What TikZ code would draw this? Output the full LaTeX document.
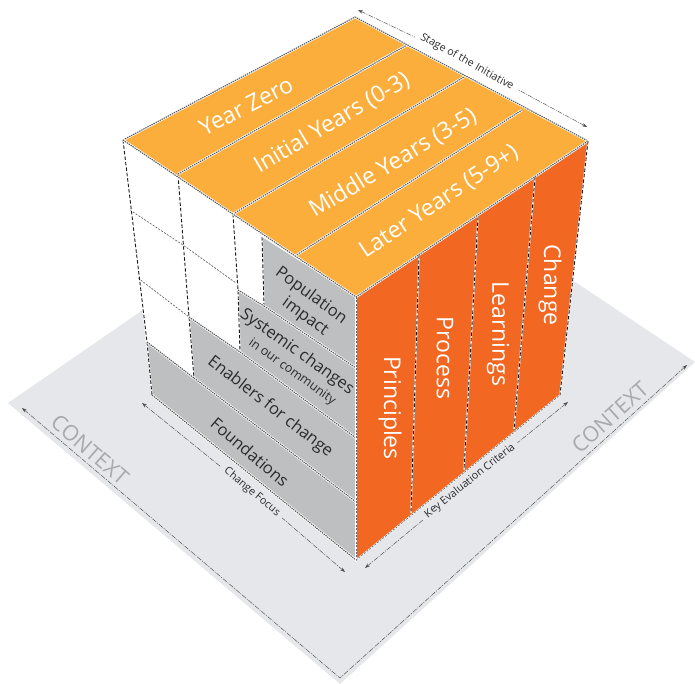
\documentclass[tikz,border=0pt]{standalone}
\usepackage{fontspec}
\setmainfont{Open Sans}
\usetikzlibrary{arrows.meta}
\definecolor{groundc}{HTML}{E5E7EA}
\definecolor{topc}{HTML}{FBAE3C}
\definecolor{rightc}{HTML}{F26722}
\definecolor{stepc}{HTML}{BDBFC1}
\definecolor{contextc}{HTML}{A7A9AC}
\definecolor{inkc}{HTML}{2B2B2B}
\tikzset{
  seam/.style={draw=black!65,line width=1.1pt,dash pattern=on 1.4pt off .9pt,
    preaction={draw=white,line width=2.4pt,solid}},
  thinseam/.style={draw=black!60,line width=.7pt,dash pattern=on 2pt off 1.4pt,
    preaction={draw=white,line width=1.4pt,solid}},
  colseam/.style={draw=black!90,line width=.9pt,dash pattern=on 3.5pt off 2pt,
    preaction={draw=white,line width=1.5pt,solid}},
  measurestart/.style={draw=black!70,line width=.45pt,dash pattern=on 5pt off 1.2pt on 1pt off 1.2pt,
    {Stealth[length=5pt,width=3.4pt]}-},
  lbl/.style={inner sep=0pt,align=center},
  toplbl/.style={lbl,text=white,font=\fontsize{23}{26}\selectfont},
  sidelbl/.style={lbl,text=white,rotate=-90,font=\fontsize{23}{26}\selectfont},
  steplbl/.style={lbl,text=inkc,font=\fontsize{16.5}{20}\selectfont},
  smalllbl/.style={inner xsep=5pt,inner ysep=0pt,text=inkc,font=\fontsize{10.7}{12}\selectfont},
  contextlbl/.style={lbl,text=contextc,font=\fontsize{21.5}{24}\selectfont},
}
\begin{document}
\begin{tikzpicture}[x=1pt,y=-1pt]
\useasboundingbox (0,0) rectangle (695,684);
% ground
\fill[groundc] (8,403) -- (376,149) -- (695,362) -- (340,684) -- cycle;
% context measures
\coordinate (cl) at (22,408);
\coordinate (capex) at (340,678);
\coordinate (cr) at (687,365);
\draw[measurestart] (cl) -- (capex);
\draw[measurestart] (cr) -- (capex);
\node[contextlbl,rotate=-41] (ctxl) at (90,450) {CONTEXT};
\node[contextlbl,rotate=42] (ctxr) at (610,417) {CONTEXT};
% left face
\fill[white] (123,140) -- (356,297) -- (356,560) -- (152,395) -- cycle;
\fill[stepc] (262,237) -- (356,297) -- (356,368) -- (264,306) -- cycle;
\fill[stepc] (238,290) -- (264,306) -- (356,368) -- (356,438) -- (240,352) -- cycle;
\fill[stepc] (189,317) -- (240,352) -- (356,438) -- (356,502) -- (194,378) -- cycle;
\fill[stepc] (147,342) -- (194,378) -- (356,502) -- (356,560) -- (152,395) -- cycle;
% right face
\fill[rightc] (356,297) -- (588,141) -- (560,395) -- (356,560) -- cycle;
% top face
\fill[topc] (123,140) -- (355,17) -- (588,141) -- (356,297) -- cycle;
% grid on the left face
\draw[thinseam] (130,210) -- (183,245) -- (236,283);
\draw[thinseam] (138,278) -- (189,317);
\draw[colseam] (123,140) -- (147,342) -- (152,395);
\draw[colseam] (178,175) -- (189,317) -- (194,378);
\draw[colseam] (233,214) -- (238,290) -- (240,352);
\draw[colseam] (262,237) -- (264,306);
% steps
\draw[seam] (264,306) -- (356,368);
\draw[seam] (238,290) -- (264,306);
\draw[seam] (240,352) -- (356,438);
\draw[seam] (189,317) -- (240,352);
\draw[seam] (194,378) -- (356,502);
\draw[seam] (147,342) -- (194,378);
\draw[seam] (152,395) -- (356,560);
% top seams
\draw[seam] (178,174) -- (407,45);
\draw[seam] (233,214) -- (464,77);
\draw[seam] (295,256) -- (522,110);
\draw[seam] (123,140) -- (355,17) -- (588,141);
\draw[seam] (123,140) -- (356,297) -- (588,141);
% right seams
\draw[colseam] (419,255) -- (411,513);
\draw[colseam] (478,217) -- (464,470);
\draw[colseam] (535,177) -- (514,430);
\draw[colseam] (588,141) -- (560,395);
\draw[thinseam] (356,297) -- (356,562);
\draw[thinseam] (356,560) -- (560,395);
% labels on the top
\node[toplbl,rotate=27] (yz) at (246,106) {Year Zero};
\node[toplbl,rotate=30.5] (iy) at (332,123) {Initial Years (0-3)};
\node[toplbl,rotate=31] (my) at (393,163) {Middle Years (3-5)};
\node[toplbl,rotate=33.7] (ly) at (439,202) {Later Years (5-9+)};
% labels on the right
\node[sidelbl] (pr) at (390,408) {Principles};
\node[sidelbl] (pc) at (445,358) {Process};
\node[sidelbl] (le) at (498,334) {Learnings};
\node[sidelbl] (ch) at (550,285) {Change};
% labels on the left
\node[steplbl,rotate=-36] (pop) at (311,296) {Population};
\node[steplbl,rotate=-36] (imp) at (305,317) {impact};
\node[steplbl,rotate=-35.5] (sys) at (297,352) {Systemic changes};
\node[steplbl,rotate=-35.8,font=\fontsize{12.5}{15}\selectfont] (com) at (292,372) {in our community};
\node[steplbl,rotate=-37.8] (ena) at (270,407) {Enablers for change};
\node[steplbl,rotate=-40.5] (fou) at (250,452) {Foundations};
% measures with labels
\coordinate (sa) at (358,10);
\coordinate (sb) at (587,127);
\node[smalllbl,rotate=-29] (stage) at (467,62) {Stage of the Initiative};
\draw[measurestart] (sa) -- (stage);
\draw[measurestart] (sb) -- (stage);
\coordinate (fa) at (142,403);
\coordinate (fb) at (345,572);
\node[smalllbl,rotate=-40] (focus) at (252,492) {Change Focus};
\draw[measurestart] (fa) -- (focus);
\draw[measurestart] (fb) -- (focus);
\coordinate (ka) at (365,568);
\coordinate (kb) at (568,402);
\node[smalllbl,rotate=38.5] (key) at (470,481) {Key Evaluation Criteria};
\draw[measurestart] (ka) -- (key);
\draw[measurestart] (kb) -- (key);
\end{tikzpicture}
\end{document}
